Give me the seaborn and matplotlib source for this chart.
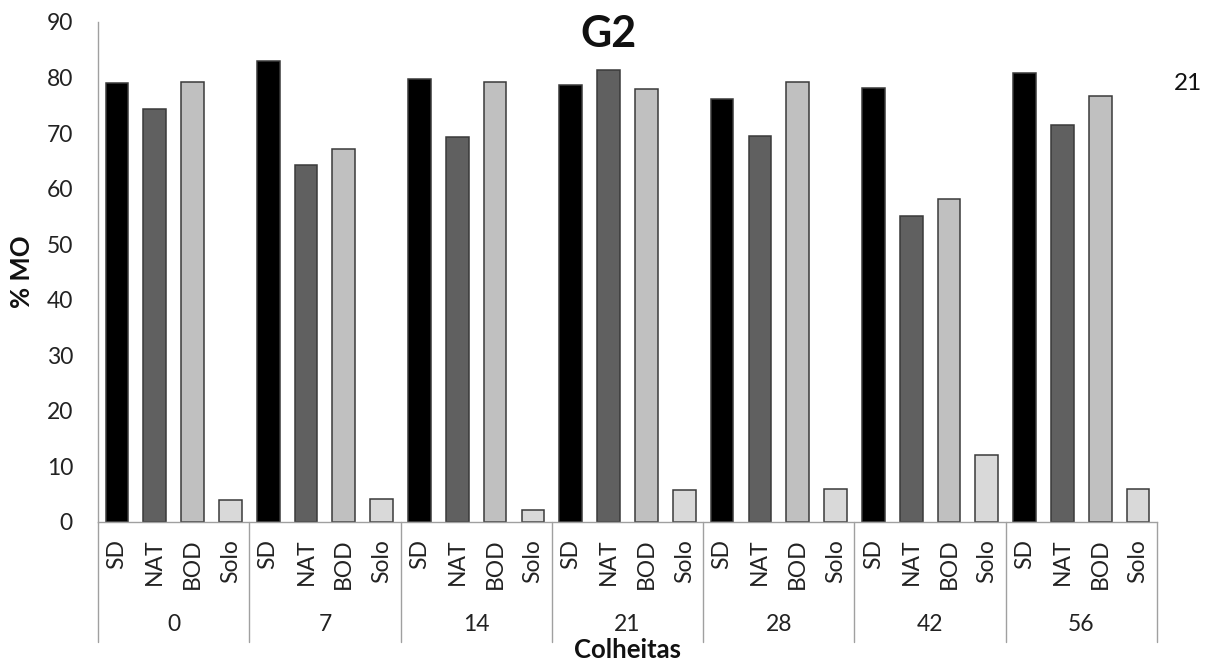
import matplotlib
matplotlib.use("Agg")
import matplotlib.pyplot as plt
import matplotlib.transforms as mtransforms
import numpy as np
import pandas as pd
import seaborn as sns

# Data: % MO per treatment at each harvest (days)
colheitas = ["0", "7", "14", "21", "28", "42", "56"]
tratamentos = ["SD", "NAT", "BOD", "Solo"]
sd = [79.0, 82.9, 79.7, 78.7, 76.2, 78.2, 80.8]
nat = [74.3, 64.2, 69.3, 81.3, 69.5, 55.0, 71.5]
bod = [79.2, 67.1, 79.2, 78.0, 79.2, 58.2, 76.6]
solo = [4.0, 4.2, 2.1, 5.8, 6.0, 12.0, 6.0]
y_ticks = [0, 10, 20, 30, 40, 50, 60, 70, 80, 90]

series = {"SD": sd, "NAT": nat, "BOD": bod, "Solo": solo}
rows = []
for gi, c in enumerate(colheitas):
    for t in tratamentos:
        rows.append({"slot": f"{c}_{t}", "colheita": c, "tratamento": t,
                     "mo": series[t][gi]})
df = pd.DataFrame(rows)
order = list(df["slot"])

sns.set_theme(style="white")
plt.rcParams["font.family"] = ["Lato", "DejaVu Sans"]

fig = plt.figure(figsize=(12.16, 6.63), dpi=100)
ax = fig.add_axes([98 / 1216, 1 - 522 / 663, (1157 - 98) / 1216, 500 / 663])

palette = {"SD": "#000000", "NAT": "#606060", "BOD": "#C0C0C0", "Solo": "#D9D9D9"}
sns.barplot(data=df, x="slot", y="mo", hue="tratamento", order=order,
            hue_order=tratamentos, palette=palette, dodge=False, width=0.6,
            edgecolor="#3a3a3a", linewidth=1.1, saturation=1, legend=False, ax=ax)

tick_fs = 16.5
ax.set_xlim(-0.5, len(order) - 0.5)
ax.set_ylim(0, 90)
ax.set_yticks(y_ticks)
ax.set_yticklabels([str(v) for v in y_ticks], fontsize=tick_fs, color="#222222")
ax.tick_params(axis="y", length=0, pad=18)

ax.set_xticks(range(len(order)))
ax.set_xticklabels(list(df["tratamento"]), rotation=90, fontsize=tick_fs,
                   color="#222222", va="top")
ax.tick_params(axis="x", length=0, pad=12)
ax.set_xlabel("")
ax.set_ylabel("")

for side in ["top", "right"]:
    ax.spines[side].set_visible(False)
for side in ["left", "bottom"]:
    ax.spines[side].set_color("#a0a0a0")
    ax.spines[side].set_linewidth(1.0)

# Harvest group labels and separators below the axis
trans = mtransforms.blended_transform_factory(ax.transData, ax.transAxes)
n_t = len(tratamentos)
for gi, c in enumerate(colheitas):
    xc = gi * n_t + (n_t - 1) / 2
    ax.text(xc, -0.205, c, transform=trans, ha="center", va="center",
            fontsize=tick_fs, color="#222222")
for b in range(len(colheitas) + 1):
    xb = b * n_t - 0.5
    ax.plot([xb, xb], [0, -0.24], transform=trans, color="#a0a0a0",
            linewidth=1.0, clip_on=False)

ax.text(0.5, -0.256, "Colheitas", transform=ax.transAxes, ha="center",
        va="center", fontsize=18.5, fontweight="bold", color="#111111")
ax.text(-0.072, 0.5, "% MO", transform=ax.transAxes, ha="center", va="center",
        rotation=90, fontsize=18.5, fontweight="bold", color="#111111")

fig.text(608 / 1216, 1 - 34 / 663, "G2", ha="center", va="center",
         fontsize=31, fontweight="bold", color="#111111")
fig.text(1188 / 1216, 1 - 83 / 663, "21", ha="center", va="center",
         fontsize=17.5, color="#111111")

fig.savefig("out.png", dpi=100)
